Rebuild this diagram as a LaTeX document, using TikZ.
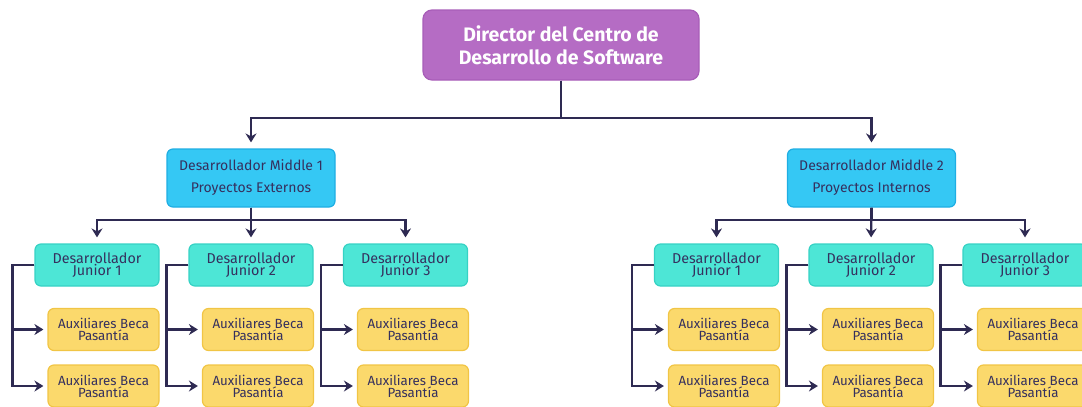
\documentclass[tikz,border=0pt]{standalone}
\usepackage{fontspec}
\setmainfont{Fira Sans}
\usetikzlibrary{arrows.meta}
\definecolor{ink}{HTML}{2E2A52}
\definecolor{txt}{HTML}{35305E}
\definecolor{dirfill}{HTML}{B56CC4}
\definecolor{dirdraw}{HTML}{A85DB8}
\definecolor{midfill}{HTML}{35C8F4}
\definecolor{middraw}{HTML}{1FAEE3}
\definecolor{junfill}{HTML}{4DE6D6}
\definecolor{jundraw}{HTML}{36D2C4}
\definecolor{auxfill}{HTML}{FBD96C}
\definecolor{auxdraw}{HTML}{F1C545}
\tikzset{
  x=1pt,y=-1pt,
  box/.style={rounded corners=6pt, line width=1.2pt, align=center, inner sep=0pt, text=txt},
  dirbox/.style={box, fill=dirfill, draw=dirdraw, rounded corners=9pt, minimum width=276pt, minimum height=70pt, text=white, font=\fontsize{19.5}{23}\selectfont\bfseries},
  midbox/.style={box, fill=midfill, draw=middraw, minimum width=168pt, minimum height=58pt, font=\fontsize{14}{22}\selectfont},
  junbox/.style={box, fill=junfill, draw=jundraw, minimum width=124pt, minimum height=42pt, font=\fontsize{14.3}{12.5}\selectfont},
  auxbox/.style={box, fill=auxfill, draw=auxdraw, minimum width=111pt, minimum height=42pt, font=\fontsize{13.3}{12}\selectfont},
  arr/.style={draw=ink, line width=2.2pt, -{Stealth[length=9pt,width=11pt,inset=3pt]}, shorten >=6pt},
  sarr/.style={draw=ink, line width=2.2pt, -{Stealth[length=9pt,width=11pt,inset=3pt]}, shorten >=4pt},
}
\begin{document}
\begin{tikzpicture}
\useasboundingbox (0,0) rectangle (1082,407);
\clip (0,0) rectangle (1082,407);
\node[dirbox] (dir) at (561,45) {Director del Centro de\\Desarrollo de Software};
\node[midbox] (m1) at (251,178) {Desarrollador Middle 1\\Proyectos Externos};
\node[midbox] (m2) at (871.5,178) {Desarrollador Middle 2\\Proyectos Internos};
% juniors
\foreach \n/\x/\i in {jl1/97/1, jl2/251/2, jl3/405.5/3, jr1/716.5/1, jr2/871/2, jr3/1025/3}{
  \node[junbox] (\n) at (\x,265) {Desarrollador\\Junior \i};
}
% auxiliaries
\foreach \n/\x in {jl1/103.5, jl2/258, jl3/413, jr1/724, jr2/878, jr3/1033}{
  \node[auxbox] (\n a) at (\x,329.5) {Auxiliares Beca\\Pasantía};
  \node[auxbox] (\n b) at (\x,386) {Auxiliares Beca\\Pasantía};
}
% director to middles
\draw[arr] (dir.south) -- ++(0,37) -| (m1.north);
\draw[arr] (dir.south) -- ++(0,37) -| (m2.north);
% middles to juniors
\foreach \m/\a/\b/\c in {m1/jl1/jl2/jl3, m2/jr1/jr2/jr3}{
  \draw[arr] (\m.south) -- ++(0,12) -| (\a.north);
  \draw[arr] (\m.south) -- (\b.north);
  \draw[arr] (\m.south) -- ++(0,12) -| (\c.north);
}
% juniors to auxiliaries
\foreach \n in {jl1, jl2, jl3, jr1, jr2, jr3}{
  \draw[sarr] (\n.west) -- ++(-22,0) |- (\n a.west);
  \draw[sarr] (\n.west) -- ++(-22,0) |- (\n b.west);
}
\end{tikzpicture}
\end{document}
